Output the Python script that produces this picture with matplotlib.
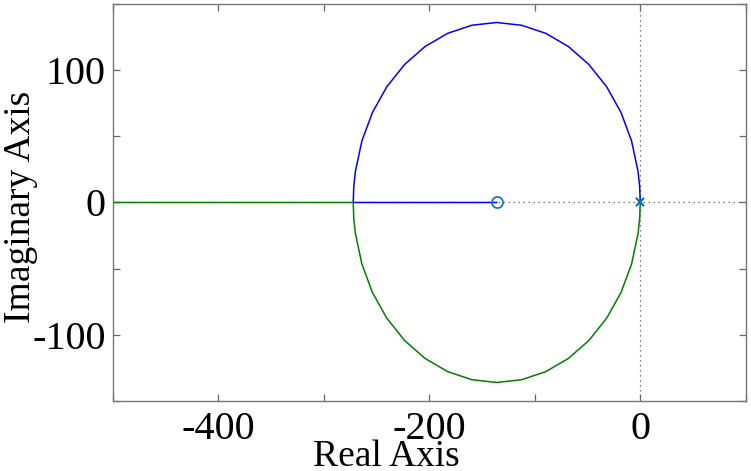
import matplotlib
matplotlib.use("Agg")
import matplotlib.pyplot as plt
from matplotlib.ticker import FixedLocator, FuncFormatter

# Data (root locus)
zero_re = [-136.0]
zero_im = [0.0]
pole_re = [0.0, 0.0]
pole_im = [0.0, 0.0]

# upper branch (blue): from poles along arc to breakin, then to zero
arc_re = [0.0, -0.5, -2.1, -8.2, -18.2, -31.8, -48.6, -68.0, -89.5, -112.4, -136.0,
          -159.6, -182.5, -204.0, -223.4, -240.2, -253.8, -263.8, -269.9, -271.5, -272.0]
arc_im = [0.0, 11.9, 23.6, 46.5, 68.0, 87.4, 104.2, 117.8, 127.8, 133.9, 136.0,
          133.9, 127.8, 117.8, 104.2, 87.4, 68.0, 46.5, 23.6, 11.9, 0.0]
blue_tail_re = [-272.0, -136.0]
blue_tail_im = [0.0, 0.0]
green_tail_re = [-272.0, -520.0]
green_tail_im = [0.0, 0.0]

xticks = [-500, -400, -300, -200, -100, 0, 100]
xlabels_shown = [-400, -200, 0]
yticks = [-150, -100, -50, 0, 50, 100, 150]
ylabels_shown = [-100, 0, 100]

plt.rcParams['font.family'] = ['Liberation Serif', 'DejaVu Serif']

fig = plt.figure(figsize=(7.51, 4.71), dpi=100)
ax = fig.add_axes([0.150, 0.1486, 0.843, 0.843])

# dotted axes lines
ax.axhline(0, color='#555555', linestyle=(0, (1, 3)), linewidth=0.9, zorder=1)
ax.axvline(0, color='#555555', linestyle=(0, (1, 3)), linewidth=0.9, zorder=1)

blue = '#0000ff'
green = '#008000'
ax.plot(arc_re + blue_tail_re, arc_im + blue_tail_im, color=blue, linewidth=1.1, zorder=2)
ax.plot(arc_re + green_tail_re, [-v for v in arc_im] + green_tail_im, color=green, linewidth=1.1, zorder=2)

ax.plot(zero_re, zero_im, linestyle='none', marker='o', markersize=8,
        markerfacecolor='none', markeredgecolor='#0072BD', markeredgewidth=1.2, zorder=3)
ax.plot(pole_re, pole_im, linestyle='none', marker='x', markersize=6,
        color='#0072BD', markeredgewidth=1.2, zorder=3)

ax.set_xlim(-500, 100)
ax.set_ylim(-150, 150)

ax.xaxis.set_major_locator(FixedLocator(xticks))
ax.yaxis.set_major_locator(FixedLocator(yticks))
ax.xaxis.set_major_formatter(FuncFormatter(lambda v, p: f"{int(v)}" if int(round(v)) in xlabels_shown else ""))
ax.yaxis.set_major_formatter(FuncFormatter(lambda v, p: f"{int(v)}" if int(round(v)) in ylabels_shown else ""))

ax.tick_params(direction='in', length=5, width=0.9, color='#666666',
               top=True, right=True, labelsize=29)
ax.tick_params(axis='y', pad=5)
ax.tick_params(axis='x', pad=7)
for s in ax.spines.values():
    s.set_color('#777777')
    s.set_linewidth(1.0)

ax.set_xlabel('Real Axis', fontsize=27, labelpad=0)
ax.set_ylabel('Imaginary Axis', fontsize=27, labelpad=0)
ax.xaxis.set_label_coords(0.432, -0.098, transform=ax.transAxes)
ax.yaxis.set_label_coords(-0.118, 0.49, transform=ax.transAxes)
ax.xaxis.label.set_verticalalignment('top')

fig.savefig('out.png', dpi=100)
